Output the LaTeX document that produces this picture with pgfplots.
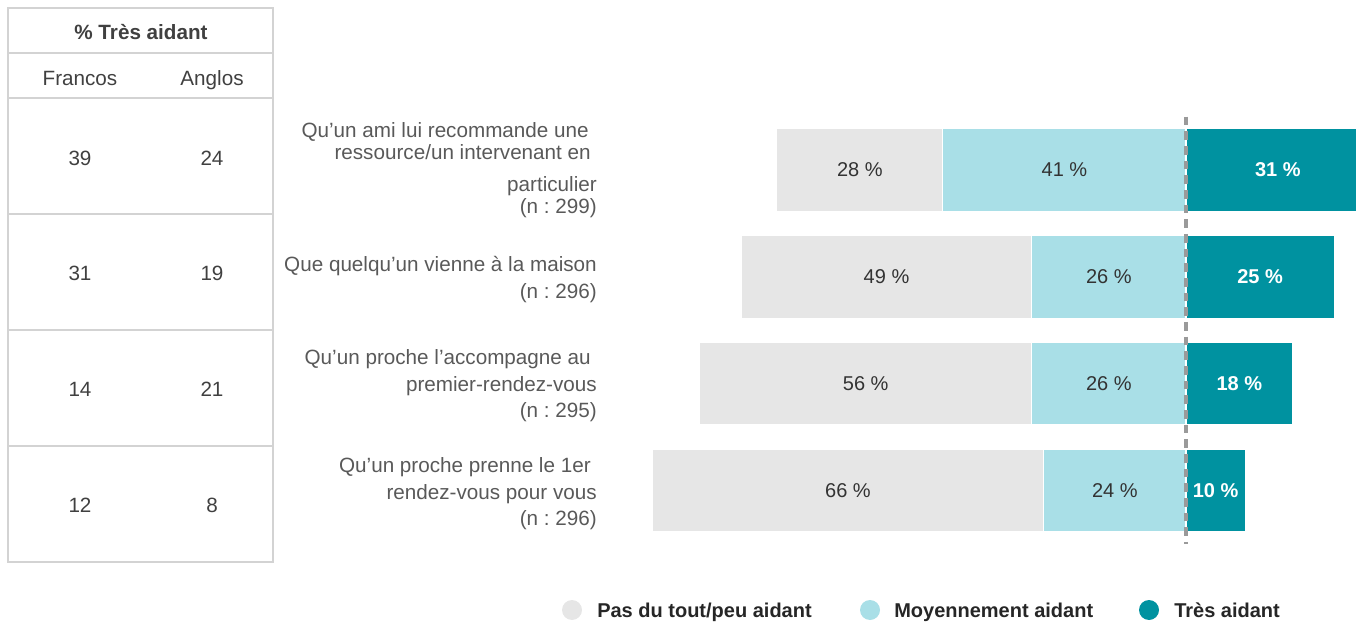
\documentclass[border=0pt]{standalone}
\usepackage{fontspec}
\setmainfont{Liberation Sans}
\usepackage{pgfplots}
\pgfplotsset{compat=1.18}
\usepackage{pgfplotstable}
\definecolor{cPas}{HTML}{E6E6E6}
\definecolor{cMoy}{HTML}{A9DFE7}
\definecolor{cTres}{HTML}{0092A0}
\definecolor{cGrid}{HTML}{D3D3D3}
\definecolor{cTxt}{HTML}{595959}
\definecolor{cTab}{HTML}{404040}
\definecolor{cLab}{HTML}{333333}
\definecolor{cLeg}{HTML}{262626}
\definecolor{cDash}{HTML}{9A9A9A}

\pgfplotstableread{
row moy pas tres
0 41 28 31
1 26 49 25
2 26 56 18
3 24 66 10
}\datatable

\pgfplotsset{base/.style={
  scale only axis, width=536.7pt, height=320.4pt,
  xmin=-92, xmax=28.67, ymin=-0.5, ymax=3.5, y dir=reverse,
  hide axis,
  bar width=0.777,
  anchor=north west, at={(480.3pt,-87.45pt)},
}}
\pgfplotsset{lab/.style={draw=none, mark=none, point meta=explicit symbolic,
  nodes near coords={\pgfplotspointmeta~\%},
  every node near coord/.append style={anchor=center, inner sep=0pt,
     font=\fontsize{15}{18}\selectfont, text=cLab}}}
\newcommand{\cat}{\fontsize{15.5}{18}\selectfont}

\begin{document}
\frenchspacing
\begin{tikzpicture}[x=0.75pt,y=-0.75pt]
\path[use as bounding box] (0,0) rectangle (1356,623);

% left table
\draw[cGrid, line width=1.1pt] (8,8) rectangle (273,562);
\foreach \yy in {53,98,214,330,446} \draw[cGrid, line width=1.1pt] (8,\yy) -- (273,\yy);
\node[anchor=base, font=\bfseries\cat, text=cTab] at (141,39.5) {\% Très aidant};
\node[anchor=base, font=\cat, text=cTab] at (80,85.5) {Francos};
\node[anchor=base, font=\cat, text=cTab] at (212,85.5) {Anglos};
\foreach \yy/\f/\a in {158/39/24, 273/31/19, 389/14/21, 505/12/8}{
  \node[anchor=center, font=\cat, text=cTab] at (80,\yy) {\f};
  \node[anchor=center, font=\cat, text=cTab] at (212,\yy) {\a};
}

% category labels
\begin{scope}[every node/.style={anchor=base east, font=\cat, text=cTxt, inner sep=0pt}]
\node at (589,138) {Qu'un ami lui recommande une};
\node at (591,160) {ressource/un intervenant en};
\node at (597,192) {particulier};
\node at (597,214) {(n : 299)};
\node at (597,272) {Que quelqu'un vienne à la maison};
\node at (597,299) {(n : 296)};
\node at (591,365) {Qu'un proche l'accompagne au};
\node at (597,392) {premier-rendez-vous};
\node at (597,417) {(n : 295)};
\node at (591,472) {Qu'un proche prenne le 1er};
\node at (597,499) {rendez-vous pour vous};
\node at (597,525) {(n : 296)};
\end{scope}

% left stacked bars
\begin{axis}[base, xbar stacked]
\addplot[fill=cMoy, draw=white, line width=0.9pt] table[x expr=-\thisrow{moy}, y=row]{\datatable};
\addplot[fill=cPas, draw=white, line width=0.9pt] table[x expr=-\thisrow{pas}, y=row]{\datatable};
\end{axis}

% right bars, zero line and value labels
\begin{axis}[base]
\addplot[xbar, bar shift=0pt, fill=cTres, draw=white, line width=0.9pt]
  table[x=tres, y=row]{\datatable};
\addplot[cDash, line width=2.3pt, dash pattern=on 6.5pt off 4.5pt, mark=none] coordinates {(0,-0.5) (0,3.5)};
\addplot[lab] table[x expr=-\thisrow{moy}/2, y=row, meta=moy]{\datatable};
\addplot[lab] table[x expr=-\thisrow{moy}-\thisrow{pas}/2, y=row, meta=pas]{\datatable};
\addplot[lab, every node near coord/.append style={font=\bfseries\fontsize{15}{18}\selectfont, text=white}]
  table[x expr=\thisrow{tres}/2, y=row, meta=tres]{\datatable};
\end{axis}

% legend
\fill[cPas] (572,610) circle (7.5pt);
\fill[cMoy] (870,610) circle (7.5pt);
\fill[cTres] (1149,610) circle (7.5pt);
\begin{scope}[every node/.style={anchor=base west, font=\bfseries\fontsize{15}{18}\selectfont, text=cLeg, inner sep=0pt}]
\node at (597,617) {Pas du tout/peu aidant};
\node at (894,617) {Moyennement aidant};
\node at (1174,617) {Très aidant};
\end{scope}
\end{tikzpicture}
\end{document}
